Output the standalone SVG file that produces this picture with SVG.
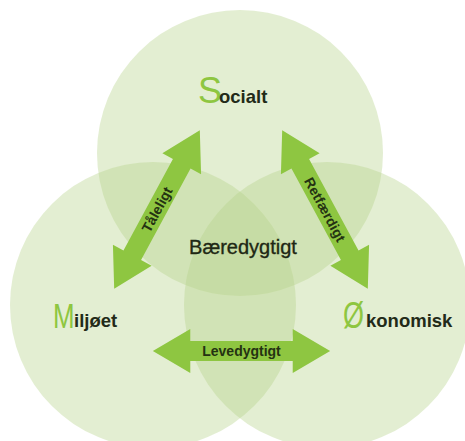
<svg xmlns="http://www.w3.org/2000/svg" width="465" height="441" viewBox="0 0 465 441">
<style>
.circ{fill:#b5d28a;fill-opacity:0.38}
.arrow{fill:#8ec641}
.big{font-family:"Liberation Sans",Arial,sans-serif;fill:#8ec641;font-size:36px}
.lbl{font-family:"Liberation Sans",Arial,sans-serif;font-weight:bold;fill:#222a18;font-size:18.5px}
.alb{font-family:"Liberation Sans",Arial,sans-serif;font-weight:bold;fill:#243212;font-size:14px;text-anchor:middle}
.ctr{font-family:"Liberation Sans",Arial,sans-serif;fill:#1e2814;stroke:#1e2814;stroke-width:0.35;font-size:20px;text-anchor:middle}
</style>
<defs>
<path id="arr" d="M-90 0 L-52 -22 L-52 -10 L52 -10 L52 -22 L90 0 L52 22 L52 10 L-52 10 L-52 22 Z"/>
</defs>
<rect width="465" height="441" fill="#ffffff"/>
<g id="circles">
<circle class="circ" cx="240" cy="153" r="143"/>
<circle class="circ" cx="153" cy="305" r="143"/>
<circle class="circ" cx="327" cy="305" r="143"/>
</g>
<g id="connectors">
<g id="arrow-taaleligt" transform="translate(157,209.5) rotate(-61.6)">
<use href="#arr" class="arrow"/>
<text class="alb" x="0" y="5">Tåleligt</text>
</g>
<g id="arrow-retfaerdigt" transform="translate(325,209.5) rotate(61.6)">
<use href="#arr" class="arrow"/>
<text class="alb" x="0" y="5">Retfærdigt</text>
</g>
<g id="arrow-levedygtigt" transform="translate(241.5,351)">
<use href="#arr" class="arrow" transform="scale(0.985,1)"/>
<text class="alb" x="0" y="5">Levedygtigt</text>
</g>
</g>
<g id="node-socialt">
<text class="big" x="198" y="103" font-size="32">S</text>
<text class="lbl" x="219" y="103">ocialt</text>
</g>
<g id="node-miljoet">
<text class="big" transform="translate(53,328) scale(0.72,1)">M</text>
<text class="lbl" x="74" y="327">iljøet</text>
</g>
<g id="node-okonomisk">
<text class="big" transform="translate(343,328) scale(0.75,1)">Ø</text>
<text class="lbl" x="366" y="327">konomisk</text>
</g>
<g id="node-baeredygtigt">
<text class="ctr" x="243" y="254">Bæredygtigt</text>
</g>
</svg>
